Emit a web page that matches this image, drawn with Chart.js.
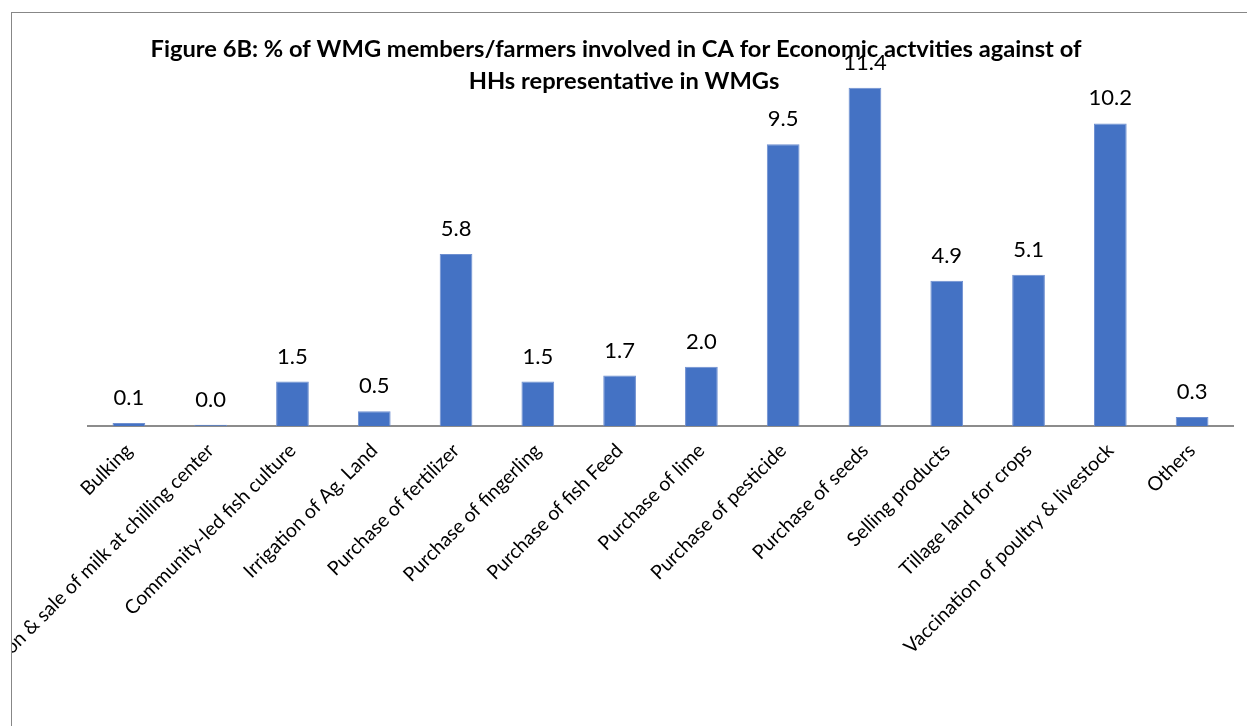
<!DOCTYPE html>
<html>
<head>
<meta charset="utf-8">
<script src="https://cdn.jsdelivr.net/npm/chart.js@4/dist/chart.umd.min.js"></script>
<style>
  html, body { margin: 0; padding: 0; background: #fff; overflow: hidden; }
  #frame {
    position: absolute; left: 11px; top: 12px;
    width: 1236px; height: 714px;
    border-left: 1px solid #878787; border-top: 1px solid #878787;
  }
  #chart { display: block; }
</style>
</head>
<body>
<div id="frame"><canvas id="chart" width="1236" height="714"></canvas></div>
<script>
// chart data
const categories = [
  'Bulking',
  'Collection & sale of milk at chilling center',
  'Community-led fish culture',
  'Irrigation of Ag. Land',
  'Purchase of fertilizer',
  'Purchase of fingerling',
  'Purchase of fish Feed',
  'Purchase of lime',
  'Purchase of pesticide',
  'Purchase of seeds',
  'Selling products',
  'Tillage land for crops',
  'Vaccination of poultry & livestock',
  'Others'
];
const percentValues = [0.1, 0.04, 1.5, 0.5, 5.8, 1.5, 1.7, 2.0, 9.5, 11.4, 4.9, 5.1, 10.2, 0.3];
const titleLines = [
  'Figure 6B: % of WMG members/farmers involved in CA for Economic actvities against of',
  'HHs representative in WMGs'
];

// value labels above bars
const valueLabels = {
  id: 'valueLabels',
  afterDatasetsDraw(chart) {
    const ctx = chart.ctx;
    const meta = chart.getDatasetMeta(0);
    ctx.save();
    ctx.font = '22px Lato';
    ctx.fillStyle = '#000';
    ctx.textAlign = 'center';
    ctx.textBaseline = 'alphabetic';
    meta.data.forEach((bar, i) => {
      ctx.fillText(percentValues[i].toFixed(1), bar.x, bar.y - 18);
    });
    ctx.restore();
  }
};

// title drawn on top, it overlaps the plot like the original
const topTitle = {
  id: 'topTitle',
  afterDraw(chart) {
    const ctx = chart.ctx;
    ctx.save();
    ctx.font = 'bold 23.7px Lato';
    ctx.fillStyle = '#000';
    ctx.textAlign = 'center';
    ctx.textBaseline = 'middle';
    ctx.fillText(titleLines[0], 604, 36);
    ctx.fillText(titleLines[1], 612, 68);
    ctx.restore();
  }
};

const ctx = document.getElementById('chart').getContext('2d');
new Chart(ctx, {
  type: 'bar',
  data: {
    labels: categories,
    datasets: [{
      data: percentValues,
      backgroundColor: '#4472C4',
      borderColor: '#6e8fd0',
      borderWidth: 1,
      categoryPercentage: 1,
      barPercentage: 0.4
    }]
  },
  options: {
    responsive: false,
    animation: false,
    layout: { padding: { left: 76, right: 15, top: 57, bottom: 0 } },
    scales: {
      x: {
        grid: { display: false, drawTicks: false },
        border: { display: true, color: '#8c8c8c', width: 2 },
        ticks: {
          color: '#000',
          font: { family: 'Lato', size: 19.5 },
          maxRotation: 45,
          minRotation: 45,
          autoSkip: false,
          padding: 13
        },
        afterFit(scale) {
          scale.paddingLeft = 0;
          scale.paddingRight = 0;
          scale.height = 301;
        }
      },
      y: {
        display: false,
        min: 0,
        max: 12
      }
    },
    plugins: {
      legend: { display: false },
      tooltip: { enabled: false }
    }
  },
  plugins: [valueLabels, topTitle]
});
</script>
</body>
</html>
